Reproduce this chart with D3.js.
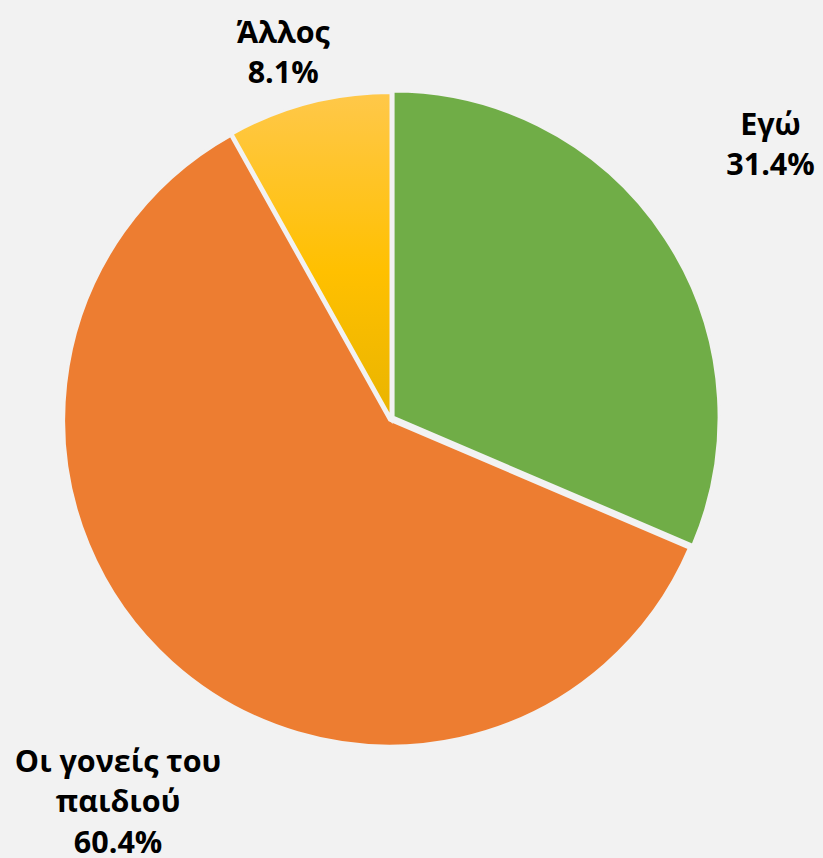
<!DOCTYPE html>
<html>
<head>
<meta charset="utf-8">
<script src="https://cdn.jsdelivr.net/npm/d3@7"></script>
<style>
  body { margin: 0; background: #f2f2f2; }
  svg { display: block; }
  .label { font-family: "Open Sans", "Noto Sans", sans-serif; font-weight: 700; font-size: 30.5px; fill: #000; }
</style>
</head>
<body>
<div id="chart"></div>
<script>
// data
var categories = ["Εγώ", "Οι γονείς του παιδιού", "Άλλος"];
var values = [31.4, 60.4, 8.1];

var svgWidth = 823;
var svgHeight = 858;

var cx = 391;
var cy = 418.5;
var radius = 326;

// slice look
var colors = ["#70ad47", "#ed7d31", "url(#goldFill)"];
var explode = [2.5, 2, 0];
// label nudges from the label arc (px)
var labelNudge = [[29, -43], [8, 71], [-2, 40]];
var lineHeight = 40.5;
var capHeight = 21.5;

var svg = d3.select("#chart")
  .append("svg")
  .attr("width", svgWidth)
  .attr("height", svgHeight);

svg.append("rect")
  .attr("width", svgWidth)
  .attr("height", svgHeight)
  .attr("fill", "#f2f2f2");

// gradient for the small slice
var grad = svg.append("defs").append("linearGradient")
  .attr("id", "goldFill")
  .attr("x1", 0).attr("y1", 0)
  .attr("x2", 0).attr("y2", 1);
grad.append("stop").attr("offset", "0%").attr("stop-color", "#ffc84a");
grad.append("stop").attr("offset", "55%").attr("stop-color", "#ffc000");
grad.append("stop").attr("offset", "100%").attr("stop-color", "#e9b400");

var data = categories.map(function(c, i) {
  return { name: c, value: values[i], i: i };
});

var pie = d3.pie()
  .sort(null)
  .value(d => d.value);

var arcs = pie(data);

var arc = d3.arc()
  .innerRadius(0)
  .outerRadius(radius);

var labelArc = d3.arc()
  .innerRadius(420)
  .outerRadius(420);

var pieGroup = svg.append("g")
  .attr("transform", `translate(${cx}, ${cy})`);

pieGroup.selectAll("path")
  .data(arcs)
  .enter()
  .append("path")
  .attr("d", arc)
  .attr("fill", d => colors[d.data.i])
  .attr("stroke", "#f2f2f2")
  .attr("stroke-width", 3)
  .attr("stroke-linejoin", "miter")
  .attr("transform", function(d) {
    var mid = (d.startAngle + d.endAngle) / 2;
    var e = explode[d.data.i];
    return `translate(${Math.sin(mid) * e}, ${-Math.cos(mid) * e})`;
  });

// labels
var labelGroup = pieGroup.selectAll("text")
  .data(arcs)
  .enter()
  .append("text")
  .attr("class", "label")
  .attr("text-anchor", "middle");

labelGroup.each(function(d) {
  var t = d3.select(this);
  // wrap the name to a max width
  var words = d.data.name.split(" ");
  var lines = [];
  var line = [];
  var probe = t.append("tspan");
  words.forEach(function(w) {
    line.push(w);
    probe.text(line.join(" "));
    if (probe.node().getComputedTextLength() > 240 && line.length > 1) {
      line.pop();
      lines.push(line.join(" "));
      line = [w];
    }
  });
  lines.push(line.join(" "));
  probe.remove();
  lines.push(d3.format(".1f")(d.data.value) + "%");

  var c = labelArc.centroid(d);
  var nudge = labelNudge[d.data.i];
  var x = c[0] + nudge[0];
  var yc = c[1] + nudge[1];
  var blockH = capHeight + lineHeight * (lines.length - 1);
  var y0 = yc - blockH / 2 + capHeight;

  lines.forEach(function(l, k) {
    t.append("tspan")
      .attr("x", x)
      .attr("y", y0 + k * lineHeight)
      .text(l);
  });
});
</script>
</body>
</html>
